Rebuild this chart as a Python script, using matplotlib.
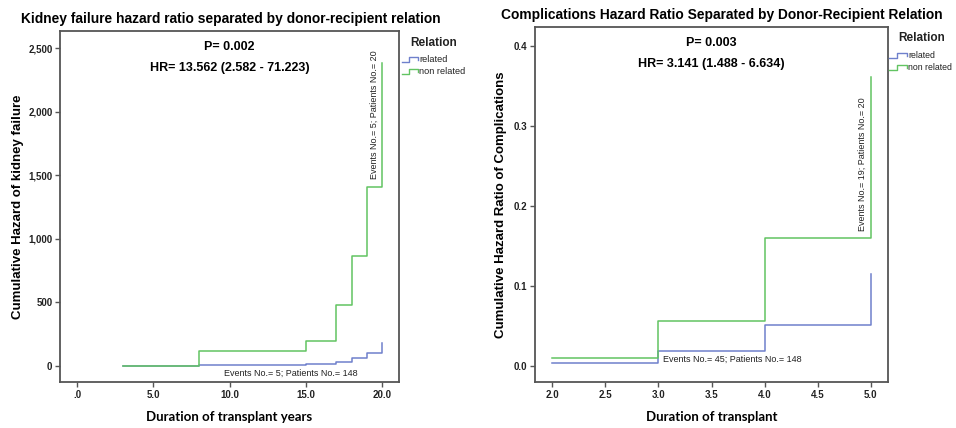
import matplotlib
matplotlib.use('Agg')
import matplotlib.pyplot as plt
from matplotlib.lines import Line2D
from matplotlib.ticker import FuncFormatter

# ---------------- data ----------------
kf_time = [3, 8, 15, 17, 18, 19, 20]
kf_related = [0, 8, 18, 32, 60, 105, 178]
kf_nonrelated = [0, 120, 198, 480, 866, 1409, 2383]
kf_xticks = [0, 5, 10, 15, 20]
kf_xticklabels = ['.0', '5.0', '10.0', '15.0', '20.0']
kf_yticks = [0, 500, 1000, 1500, 2000, 2500]

cp_time = [2, 3, 4, 5]
cp_related = [0.004, 0.019, 0.051, 0.115]
cp_nonrelated = [0.0105, 0.056, 0.160, 0.362]
cp_xticks = [2.0, 2.5, 3.0, 3.5, 4.0, 4.5, 5.0]
cp_yticks = [0.0, 0.1, 0.2, 0.3, 0.4]

series_names = ['related', 'non related']
BLUE = '#6f80cc'
GREEN = '#62c462'
COLORS = [BLUE, GREEN]
FRAME = '#555555'

FONT = 'Liberation Sans'
LABFONT = 'Lato'

W, H = 956, 428
fig = plt.figure(figsize=(W / 100, H / 100), dpi=100)


def px(x, y):
    return x / W, 1 - y / H


def style_axes(ax):
    for s in ax.spines.values():
        s.set_color(FRAME)
        s.set_linewidth(1.3)
    ax.tick_params(axis='both', direction='out', length=3.5, width=1.0,
                   color=FRAME, labelsize=7, pad=2)
    for lab in ax.get_xticklabels() + ax.get_yticklabels():
        lab.set_fontweight('bold')
        lab.set_family(FONT)
        lab.set_color('#222222')


def add_legend(title_xy, icon_x0, icon_x1, rows_y, fs):
    tx, ty = px(*title_xy)
    fig.text(tx, ty, 'Relation', ha='center', va='center', fontsize=8.5,
             fontweight='bold', family=FONT, color='#222222')
    for name, col, yy in zip(series_names, COLORS, rows_y):
        w = icon_x1 - icon_x0
        xs = [icon_x0, icon_x0 + 0.45 * w, icon_x0 + 0.45 * w, icon_x1, icon_x1]
        ys = [yy + 2, yy + 2, yy - 3, yy - 3, yy]
        fxs = [x / W for x in xs]
        fys = [1 - y / H for y in ys]
        fig.add_artist(Line2D(fxs, fys, color=col, lw=1.0,
                              transform=fig.transFigure))
        lx, ly = px(icon_x1 + 1, yy)
        fig.text(lx, ly, name, ha='left', va='center', fontsize=fs,
                 family=FONT, color='#222222')


# ---------------- left panel ----------------
ax1 = fig.add_axes([0.0628, 0.1075, 0.3546, 0.820])
ax1.step(kf_time, kf_related, where='post', color=BLUE, lw=1.1)
ax1.step(kf_time, kf_nonrelated, where='post', color=GREEN, lw=1.1)
ax1.set_xlim(-1.11, 21.1)
ax1.set_ylim(-126, 2634)
ax1.set_xticks(kf_xticks)
ax1.set_xticklabels(kf_xticklabels)
ax1.set_yticks(kf_yticks)
ax1.yaxis.set_major_formatter(FuncFormatter(lambda v, p: f'{v:,.0f}'))
style_axes(ax1)
ax1.set_title('Kidney failure hazard ratio separated by donor-recipient relation',
              fontsize=9.9, fontweight='bold', family=FONT, pad=6, x=0.505)
ax1.set_xlabel('Duration of transplant years', fontsize=9.5, fontweight='bold',
               family=LABFONT, labelpad=8)
ax1.set_ylabel('Cumulative Hazard of kidney failure', fontsize=9.5,
               fontweight='bold', family=FONT, labelpad=3)
ax1.text(0.5, 0.955, 'P= 0.002', transform=ax1.transAxes, ha='center',
         va='center', fontsize=9, fontweight='bold', family=FONT)
ax1.text(0.5, 0.895, 'HR= 13.562 (2.582 - 71.223)', transform=ax1.transAxes,
         ha='center', va='center', fontsize=9, fontweight='bold', family=FONT)
ax1.text(19.45, 1975, 'Events No.= 5; Patients No.= 20', rotation=90,
         ha='center', va='center', fontsize=6.5, family=FONT, color='#222222')
ax1.text(14.0, -60, 'Events No.= 5; Patients No.= 148', ha='center',
         va='center', fontsize=6.5, family=FONT, color='#222222')
add_legend((434, 43), 402, 418, [60, 72], 6.6)

# ---------------- right panel ----------------
ax2 = fig.add_axes([0.5596, 0.1075, 0.3693, 0.8294])
ax2.step(cp_time, cp_related, where='post', color=BLUE, lw=1.1)
ax2.step(cp_time, cp_nonrelated, where='post', color=GREEN, lw=1.1)
ax2.set_xlim(1.837, 5.163)
ax2.set_ylim(-0.020, 0.424)
ax2.set_xticks(cp_xticks)
ax2.set_yticks(cp_yticks)
ax2.xaxis.set_major_formatter(FuncFormatter(lambda v, p: f'{v:.1f}'))
ax2.yaxis.set_major_formatter(FuncFormatter(lambda v, p: f'{v:.1f}'))
style_axes(ax2)
ax2.set_title('Complications Hazard Ratio Separated by Donor-Recipient Relation',
              fontsize=9.9, fontweight='bold', family=FONT, pad=6, x=0.53)
ax2.set_xlabel('Duration of transplant', fontsize=9.5, fontweight='bold',
               family=LABFONT, labelpad=8)
ax2.set_ylabel('Cumulative Hazard Ratio of Complications', fontsize=9.5,
               fontweight='bold', family=FONT, labelpad=4.5)
ax2.text(0.5, 0.955, 'P= 0.003', transform=ax2.transAxes, ha='center',
         va='center', fontsize=9, fontweight='bold', family=FONT)
ax2.text(0.5, 0.895, 'HR= 3.141 (1.488 - 6.634)', transform=ax2.transAxes,
         ha='center', va='center', fontsize=9, fontweight='bold', family=FONT)
ax2.text(4.925, 0.253, 'Events No.= 19; Patients No.= 20', rotation=90,
         ha='center', va='center', fontsize=6.5, family=FONT, color='#222222')
ax2.text(3.045, 0.008, 'Events No.= 45; Patients No.= 148', ha='left',
         va='center', fontsize=6.5, family=FONT, color='#222222')
add_legend((922, 38), 889, 907, [56, 68], 6.3)

fig.savefig('out.png', dpi=100)
